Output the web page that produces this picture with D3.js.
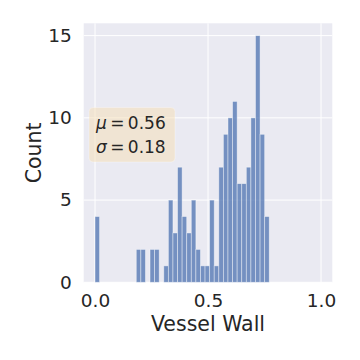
<!DOCTYPE html>
<html>
<meta charset="utf-8">
<title>Vessel Wall histogram</title>
<style>
body {
  margin: 0;
  background: #fff;
  font-family: "DejaVu Sans", sans-serif;
}

svg text {
  font-family: "DejaVu Sans", sans-serif;
}

.grid line {
  stroke: #fff;
  stroke-width: 1;
}

.tick text {
  fill: #262626;
  font-size: 18.5px;
}

.label {
  fill: #262626;
  font-size: 20.5px;
}

.bar {
  fill: #4C72B0;
  fill-opacity: .75;
  stroke: #fff;
  stroke-opacity: .5;
  stroke-width: .8;
}
</style>
<body>
<div id="chart"></div>
<script src="https://d3js.org/d3.v7.min.js"></script>
<script>

// histogram counts, 38 equal bins between binMin and binMax
var counts = [4, 0, 0, 0, 0, 0, 0, 0, 0, 2, 2, 0, 2, 2, 0,
  1, 5, 3, 7, 4, 3, 5, 2, 1, 1, 5, 1, 7, 9, 10, 11, 6, 6, 7, 10, 15, 9, 4];
var binMin = 0.0,
  binMax = 0.771;

var xTicks = [0, 0.5, 1.0],
  yTicks = [0, 5, 10, 15];

var statLines = [
  { sym: "μ", val: "0.56" },
  { sym: "σ", val: "0.18" }
];

var xLabel = "Vessel Wall",
  yLabel = "Count";

var width = 360,
  height = 360;

var x = d3.scaleLinear()
  .domain([-0.05, 1.05])
  .range([83.7, 332.3]);

var y = d3.scaleLinear()
  .domain([0, 15.75])
  .range([282.3, 23.3]);

var svg = d3.select("#chart").append("svg")
  .attr("width", width)
  .attr("height", height);

// background panel
svg.append("rect")
  .attr("x", x.range()[0])
  .attr("y", y.range()[1])
  .attr("width", x.range()[1] - x.range()[0])
  .attr("height", y.range()[0] - y.range()[1])
  .attr("fill", "#EAEAF2");

// grid
var grid = svg.append("g").attr("class", "grid");
grid.selectAll(".gx")
  .data(xTicks)
  .enter().append("line")
  .attr("x1", function(d) { return x(d); })
  .attr("x2", function(d) { return x(d); })
  .attr("y1", y.range()[0])
  .attr("y2", y.range()[1]);
grid.selectAll(".gy")
  .data(yTicks)
  .enter().append("line")
  .attr("x1", x.range()[0])
  .attr("x2", x.range()[1])
  .attr("y1", function(d) { return y(d); })
  .attr("y2", function(d) { return y(d); });

// bars
var binW = (binMax - binMin) / counts.length;
var bins = counts.map(function(c, i) {
  return { x0: binMin + i * binW, x1: binMin + (i + 1) * binW, n: c };
}).filter(function(d) { return d.n > 0; });

svg.append("g").selectAll(".bar")
  .data(bins)
  .enter().append("rect")
  .attr("class", "bar")
  .attr("x", function(d) { return x(d.x0); })
  .attr("width", function(d) { return x(d.x1) - x(d.x0); })
  .attr("y", function(d) { return y(d.n); })
  .attr("height", function(d) { return y(0) - y(d.n); });

// axes (labels only, no lines)
var xAxis = svg.append("g")
  .attr("transform", "translate(0," + y.range()[0] + ")")
  .call(d3.axisBottom(x).tickValues(xTicks).tickFormat(d3.format(".1f")).tickSize(0).tickPadding(12))
  .attr("font-family", "DejaVu Sans");
xAxis.select(".domain").remove();
xAxis.selectAll("text").attr("dy", "0.71em");

var yAxis = svg.append("g")
  .attr("transform", "translate(" + x.range()[0] + ",0)")
  .call(d3.axisLeft(y).tickValues(yTicks).tickFormat(d3.format("d")).tickSize(0).tickPadding(12))
  .attr("font-family", "DejaVu Sans");
yAxis.select(".domain").remove();

svg.append("text")
  .attr("class", "label")
  .attr("x", (x.range()[0] + x.range()[1]) / 2)
  .attr("y", 331)
  .attr("text-anchor", "middle")
  .text(xLabel);

svg.append("text")
  .attr("class", "label")
  .attr("transform", "translate(41," + ((y.range()[0] + y.range()[1]) / 2) + ") rotate(-90)")
  .attr("text-anchor", "middle")
  .text(yLabel);

// stats box
var box = svg.append("g");
box.append("rect")
  .attr("x", 89)
  .attr("y", 107.5)
  .attr("width", 86)
  .attr("height", 54.5)
  .attr("rx", 4)
  .attr("fill", "#F5DEB3")
  .attr("fill-opacity", 0.5)
  .attr("stroke", "#fff")
  .attr("stroke-opacity", 0.3);

var st = box.selectAll(".stat")
  .data(statLines)
  .enter().append("text")
  .attr("class", "stat")
  .attr("x", 96)
  .attr("y", function(d, i) { return 129.3 + i * 23.4; })
  .attr("fill", "#262626")
  .attr("font-size", "17px");
st.append("tspan")
  .attr("font-style", "italic")
  .text(function(d) { return d.sym; });
st.append("tspan")
  .text(function(d) { return "\u2009=\u2009" + d.val; });

</script>
</body>
</html>
